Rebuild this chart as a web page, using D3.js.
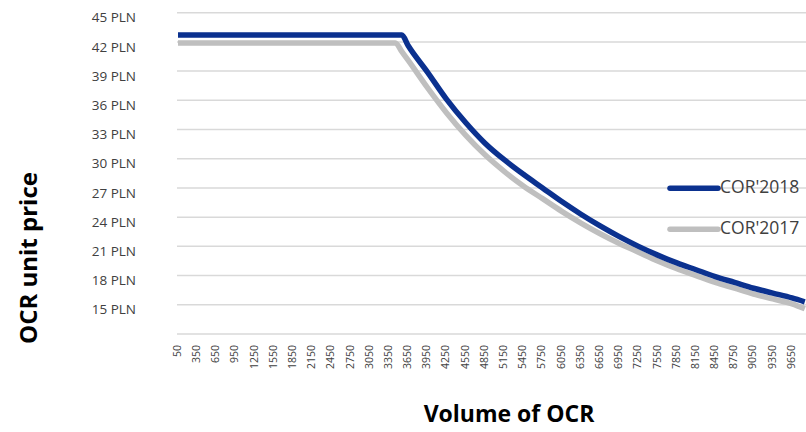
<!DOCTYPE html>
<html><head><meta charset="utf-8">
<script src="https://cdn.jsdelivr.net/npm/d3@7"></script>
<style>body{margin:0;background:#fff}svg{display:block}</style>
</head><body>
<svg id="c" width="806" height="432"></svg>
<script>
const volumes = [50,350,650,950,1250,1550,1850,2150,2450,2750,3050,3350,3450,3550,3650,3950,4250,4550,4850,5150,5450,5750,6050,6350,6650,6950,7250,7550,7850,8150,8450,8750,9050,9350,9650,9850];
const cor2018 = [42.7,42.7,42.7,42.7,42.7,42.7,42.7,42.7,42.7,42.7,42.7,42.7,42.7,42.7,41.6,38.9,36.1,33.7,31.6,29.9,28.4,27.0,25.6,24.3,23.1,22.0,21.0,20.1,19.3,18.6,17.9,17.3,16.7,16.2,15.7,15.3];
const cor2017 = [41.9,41.9,41.9,41.9,41.9,41.9,41.9,41.9,41.9,41.9,41.9,41.9,41.9,41.0,40.1,37.3,34.7,32.4,30.4,28.7,27.2,25.9,24.6,23.4,22.3,21.3,20.4,19.5,18.7,18.0,17.3,16.7,16.1,15.6,15.1,14.6];
const xTickLabels = [50,350,650,950,1250,1550,1850,2150,2450,2750,3050,3350,3650,3950,4250,4550,4850,5150,5450,5750,6050,6350,6650,6950,7250,7550,7850,8150,8450,8750,9050,9350,9650];
const yTicks = [15,18,21,24,27,30,33,36,39,42,45];
const seriesNames = ["COR'2018","COR'2017"];

const svg = d3.select("#c");
const x = d3.scaleLinear().domain([50,9650]).range([178,792]);
const y = d3.scaleLinear().domain([12,45]).range([334,12.7]);
const font = "'Open Sans', sans-serif";

// gridlines
svg.append("g").selectAll("line").data([12].concat(yTicks)).join("line")
  .attr("x1",177).attr("x2",806).attr("y1",d=>y(d)).attr("y2",d=>y(d))
  .attr("stroke","#d9d9d9").attr("stroke-width",1.5);

// y labels
svg.append("g").selectAll("text").data(yTicks).join("text")
  .attr("x",136).attr("y",d=>y(d)+6).attr("text-anchor","end").attr("dominant-baseline","middle")
  .attr("font-family",font).attr("font-size",13.5).attr("fill","#404040")
  .text(d=>d+" PLN");

// x labels
svg.append("g").selectAll("text").data(xTickLabels).join("text")
  .attr("transform",d=>`translate(${x(d)},345) rotate(-90)`)
  .attr("text-anchor","end").attr("dominant-baseline","middle")
  .attr("font-family",font).attr("font-size",10.5).attr("fill","#404040")
  .text(d=>d);

const line = vals => d3.line().x((d,i)=>x(volumes[i])).y(d=>y(d)).curve(d3.curveMonotoneX)(vals);
svg.append("path").attr("d",line(cor2017)).attr("fill","none").attr("stroke","#bfbfbf")
  .attr("stroke-width",5.5).attr("stroke-linejoin","round");
svg.append("path").attr("d",line(cor2018)).attr("fill","none").attr("stroke","#0b318f")
  .attr("stroke-width",5.5).attr("stroke-linejoin","round");

// legend
const leg = [{n:seriesNames[0],c:"#0b318f",y:188.3},{n:seriesNames[1],c:"#bfbfbf",y:229.3}];
leg.forEach(l=>{
  svg.append("line").attr("x1",670).attr("x2",718).attr("y1",l.y).attr("y2",l.y)
    .attr("stroke",l.c).attr("stroke-width",5.5).attr("stroke-linecap","round");
  svg.append("text").attr("x",720).attr("y",l.y).attr("dominant-baseline","middle")
    .attr("font-family",font).attr("font-size",17.5).attr("fill","#404040").text(l.n);
});

// axis titles
svg.append("text").attr("transform","translate(31,258) rotate(-90)").attr("text-anchor","middle")
  .attr("dominant-baseline","middle").attr("font-family",font).attr("font-weight","bold")
  .attr("font-size",24).attr("fill","#000").text("OCR unit price");
svg.append("text").attr("x",509).attr("y",416).attr("text-anchor","middle")
  .attr("dominant-baseline","middle").attr("font-family",font).attr("font-weight","bold")
  .attr("font-size",23).attr("fill","#000").text("Volume of OCR");
</script>
</body></html>
